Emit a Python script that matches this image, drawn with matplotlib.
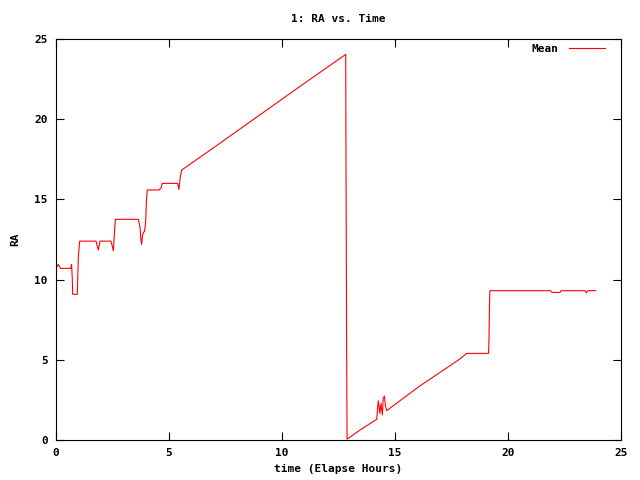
import matplotlib
matplotlib.use("Agg")
import matplotlib.pyplot as plt

# elapsed hours and mean RA
hours = [0.0, 0.1, 0.2, 0.65, 0.69, 0.72, 0.74, 0.94, 0.96, 0.99, 1.05,
         1.77, 1.87, 1.95, 2.43, 2.50, 2.54, 2.60, 2.63,
         3.64, 3.72, 3.75, 3.79, 3.83, 3.89, 3.92, 3.97, 4.0, 4.04,
         4.56, 4.66, 4.70, 5.38, 5.44, 5.50, 5.56,
         7.0, 9.0, 11.0, 12.82, 12.83, 12.86, 12.88,
         13.45, 14.19, 14.26, 14.33, 14.38, 14.44, 14.48, 14.53, 14.57, 14.63,
         16.1, 17.85, 18.17, 19.14, 19.16, 19.18, 19.2,
         21.89, 21.95, 22.3, 22.35, 23.4, 23.47, 23.53, 23.88]
ra = [10.7, 10.95, 10.7, 10.7, 10.95, 10.08, 9.08, 9.08, 10.0, 11.5, 12.4,
      12.4, 11.85, 12.4, 12.4, 12.05, 11.8, 13.3, 13.76,
      13.76, 13.26, 12.57, 12.2, 12.78, 12.99, 12.99, 13.67, 14.9, 15.59,
      15.59, 15.75, 16.0, 16.0, 15.63, 16.4, 16.83,
      18.25, 20.25, 22.25, 24.04, 18.1, 6.0, 0.05,
      0.62, 1.29, 2.45, 1.66, 2.29, 1.56, 2.6, 2.74, 2.18, 1.83,
      3.37, 5.03, 5.4, 5.4, 6.34, 8.35, 9.31,
      9.31, 9.2, 9.2, 9.31, 9.31, 9.18, 9.31, 9.31]

xticks = [0, 5, 10, 15, 20, 25]
yticks = [0, 5, 10, 15, 20, 25]

plt.rcParams["font.family"] = "DejaVu Sans Mono"
plt.rcParams["font.weight"] = "bold"
plt.rcParams["font.size"] = 8

fig = plt.figure(figsize=(6.4, 4.8), dpi=100)
ax = fig.add_axes([0.0875, 0.0833, 0.8828, 0.8354])

ax.plot(hours, ra, color="red", lw=0.8, label="Mean")

ax.set_xlim(0, 25)
ax.set_ylim(0, 25)
ax.set_xticks(xticks)
ax.set_yticks(yticks)
ax.tick_params(direction="in", top=True, right=True, length=6, width=0.8, pad=6)
for s in ax.spines.values():
    s.set_linewidth(0.8)

ax.set_title("1: RA vs. Time", fontsize=8, fontweight="bold", pad=12)
ax.set_xlabel("time (Elapse Hours)", fontsize=8, fontweight="bold", labelpad=4)
ax.set_ylabel("RA", fontsize=8, fontweight="bold", labelpad=10)

leg = ax.legend(loc="upper right", bbox_to_anchor=(0.985, 1.008), frameon=False,
                handlelength=3.2, handletextpad=1.0, fontsize=8,
                borderaxespad=0.3, markerfirst=False)

fig.savefig("out.png", dpi=100)
